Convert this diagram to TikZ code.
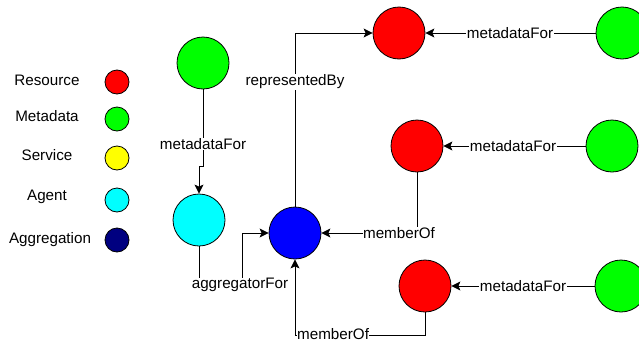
\documentclass[tikz,border=0pt]{standalone}
\usepackage{fontspec}
\setmainfont{Liberation Sans}
\usetikzlibrary{arrows.meta}
\definecolor{cred}{HTML}{FF0000}
\definecolor{cgreen}{HTML}{00FF00}
\definecolor{cyellow}{HTML}{FFFF00}
\definecolor{ccyan}{HTML}{00FFFF}
\definecolor{cnavy}{HTML}{000080}
\definecolor{cblue}{HTML}{0000FF}
\begin{document}
\begin{tikzpicture}[x=1pt,y=-1pt,
  circ/.style={circle, draw=black, line width=0.8pt, minimum size=52pt, inner sep=0pt},
  leg/.style={circle, draw=black, line width=0.8pt, minimum size=24pt, inner sep=0pt},
  txt/.style={font=\fontsize{15.2}{18}\selectfont, inner sep=0.5pt},
  lbl/.style={txt, fill=white},
  edge/.style={draw=black, line width=0.9pt, -{Stealth[length=9pt,width=9pt,inset=2pt]}}]
\useasboundingbox (0,0) rectangle (639,343);
% legend
\node[txt] (lt1) at (47,80) {Resource};
\node[txt] (lt2) at (47,116) {Metadata};
\node[txt] (lt3) at (47,155) {Service};
\node[txt] (lt4) at (47,197) {Agent};
\node[txt] (lt5) at (50,240) {Aggregation};
\node[leg, fill=cred] (lc1) at (117,82) {};
\node[leg, fill=cgreen] (lc2) at (117,119) {};
\node[leg, fill=cyellow] (lc3) at (117,158) {};
\node[leg, fill=ccyan] (lc4) at (117,200) {};
\node[leg, fill=cnavy] (lc5) at (117,240) {};
% main nodes
\node[circ, fill=cgreen] (g1) at (203,63) {};
\node[circ, fill=ccyan] (cy) at (199,220) {};
\node[circ, fill=cblue] (bl) at (295,233) {};
\node[circ, fill=cred] (r1) at (399,33) {};
\node[circ, fill=cgreen] (g2) at (622,33) {};
\node[circ, fill=cred] (r2) at (417,146) {};
\node[circ, fill=cgreen] (g3) at (612,146) {};
\node[circ, fill=cred] (r3) at (425,286) {};
\node[circ, fill=cgreen] (g4) at (621,286) {};
% edges
\draw[edge] (g1.south) -- (203,166) -| (cy.north);
\draw[edge] (cy.south) |- (242,285) |- (bl.west);
\draw[edge] (bl.north) |- (r1.west);
\draw[edge] (g2.west) -- (r1.east);
\draw[edge] (g3.west) -- (r2.east);
\draw[edge] (g4.west) -- (r3.east);
\draw[edge] (r2.south) |- (bl.east);
\draw[edge] (r3.south) -- (425,335.5) -| (bl.south);
% labels
\node[lbl] (l1) at (203,144) {metadataFor};
\node[lbl] (l2) at (240,285) {aggregatorFor};
\node[lbl] (l3) at (295,82) {representedBy};
\node[lbl] (l4) at (510,33) {metadataFor};
\node[lbl] (l5) at (513,146) {metadataFor};
\node[lbl] (l6) at (523,286) {metadataFor};
\node[lbl] (l7) at (399,233) {memberOf};
\node[lbl, anchor=west] (l8) at (296.5,334.5) {memberOf};
\end{tikzpicture}
\end{document}
